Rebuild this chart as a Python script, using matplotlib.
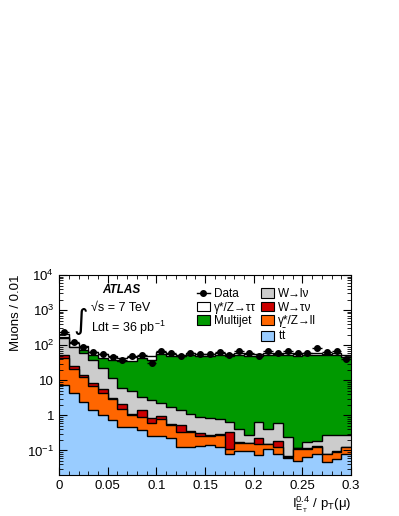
import numpy as np
import matplotlib
matplotlib.use("Agg")
import matplotlib.pyplot as plt
from matplotlib.lines import Line2D
from matplotlib.patches import Patch
from matplotlib.ticker import MultipleLocator, LogLocator, FuncFormatter, NullFormatter

plt.rcParams['font.family'] = ['Liberation Sans', 'DejaVu Sans']
plt.rcParams['mathtext.fontset'] = 'custom'
plt.rcParams['mathtext.rm'] = 'Liberation Sans'
plt.rcParams['mathtext.it'] = 'Liberation Sans:italic'
plt.rcParams['mathtext.bf'] = 'Liberation Sans:bold'

# 30 bins of 0.01 in I(E_T)/pT
bin_width = 0.01
n_bins = 30

data = [240, 126, 87, 62, 56, 45, 38, 49, 51, 32, 68, 59, 49, 59, 56,
        56, 65, 52, 70, 59, 49, 70, 61, 68, 59, 59, 83, 65, 66, 40]

ttbar = [7.3, 4.2, 2.45, 1.42, 1.02, 0.74, 0.46, 0.47, 0.38, 0.26, 0.26, 0.22, 0.128, 0.128, 0.13,
         0.143, 0.128, 0.079, 0.099, 0.099, 0.074, 0.108, 0.079, 0.06, 0.051, 0.066, 0.08, 0.048, 0.056, 0.079]
zll = [35, 16.3, 9.7, 5.5, 3.4, 2.12, 1.03, 0.55, 0.5, 0.33, 0.51, 0.31, 0.21, 0.21, 0.13,
       0.11, 0.14, 0.03, 0.067, 0.06, 0.076, 0.044, 0.049, 0.006, 0.061, 0.046, 0.048, 0.031, 0.036, 0.044]
wtaunu = [10, 5.0, 2.0, 1.65, 1.1, 0.34, 0.61, 0.05, 0.54, 0.23, 0.18, 0.02, 0.19, 0.02, 0.056,
          0.02, 0.02, 0.23, 0.004, 0.003, 0.07, 0.003, 0.062, 0.002, 0.003, 0.003, 0.002, 0.002, 0.002, 0.003]
wlnu = [113, 64.5, 46, 29.5, 16.5, 8.3, 3.9, 3.9, 2.0, 1.9, 1.25, 1.22, 0.87, 0.74, 0.58,
        0.58, 0.51, 0.31, 0.25, 0.118, 0.44, 0.245, 0.41, 0.177, 0.005, 0.055, 0.05, 0.2, 0.186, 0.144]
multijet = [0.5, 0.5, 15, 14, 22, 26.5, 29, 30, 38.6, 36.3, 52.8, 48.2, 46.6, 50.9, 49.1,
            49.2, 53.2, 48.4, 51.6, 49.7, 48.3, 51.6, 50.4, 52.8, 49.9, 51.8, 53.8, 50.7, 51.7, 45.7]
ztautau = [44.5, 27.5, 17, 13, 11, 10, 9, 11, 8, 9, 7, 6, 6, 6, 6,
           6, 6, 6, 6, 6, 6, 6, 6, 7, 6, 6, 6, 6, 6, 6]

# bottom to top
layers = [
    (r'$\mathrm{t\bar{t}}$', ttbar, '#99ccff'),
    ('γ*/Z→ll', zll, '#ff6600'),
    ('W→τν', wtaunu, '#cc0000'),
    ('W→lν', wlnu, '#cccccc'),
    ('Multijet', multijet, '#009900'),
    ('γ*/Z→ττ', ztautau, '#ffffff'),
]

edges = np.arange(n_bins + 1) * bin_width
centers = edges[:-1] + bin_width / 2

fig = plt.figure(figsize=(3.99, 5.16), dpi=100)
ax = fig.add_axes([0.148, 0.0795, 0.732, 0.3876])

tops = []
cum = np.zeros(n_bins)
for label, vals, col in layers:
    cum = cum + np.array(vals)
    tops.append(cum.copy())

for (label, vals, col), top in reversed(list(zip(layers, tops))):
    ax.stairs(top, edges, baseline=1e-4, fill=True, color=col, lw=0)
    ax.stairs(top, edges, baseline=None, color='black', lw=1.0)

data = np.array(data, dtype=float)
ax.errorbar(centers, data, xerr=bin_width / 2, yerr=np.sqrt(data), fmt='o',
            color='black', ms=4, elinewidth=1.0, capsize=0, zorder=5)

ax.set_yscale('log')
ax.set_xlim(0, 0.3)
ax.set_ylim(0.02, 1e4)

ax.xaxis.set_major_locator(MultipleLocator(0.05))
ax.xaxis.set_minor_locator(MultipleLocator(0.01))
ax.xaxis.set_major_formatter(FuncFormatter(lambda v, p: '%g' % round(v, 2)))


def ylab(v, p):
    if v == 1:
        return '1'
    if v == 10:
        return '10'
    return r'$10^{%d}$' % round(np.log10(v))


ax.yaxis.set_major_locator(LogLocator(base=10, numticks=10))
ax.yaxis.set_minor_locator(LogLocator(base=10, subs=np.arange(2, 10), numticks=20))
ax.yaxis.set_major_formatter(FuncFormatter(ylab))
ax.yaxis.set_minor_formatter(NullFormatter())

ax.tick_params(which='both', direction='in', top=True, right=True, labelsize=9.5)
ax.tick_params(which='major', length=6)
ax.tick_params(which='minor', length=3)

ax.set_ylabel('Muons / 0.01', fontsize=9.5, loc='top')
ax.set_xlabel(r'$\mathrm{I}^{0.4}_{\mathrm{E_T}}$ / $\mathrm{p_T(\mu)}$', fontsize=9.5,
              loc='right', labelpad=2)

ax.text(0.147, 0.925, 'ATLAS', transform=ax.transAxes, fontsize=8.5, fontweight='bold',
        style='italic', va='center')
ax.text(0.098, 0.77, '∫', transform=ax.transAxes, fontsize=20, va='center', ha='right',
        family='DejaVu Sans')
ax.text(0.108, 0.835, '√s = 7 TeV', transform=ax.transAxes, fontsize=9, va='center')
ax.text(0.11, 0.735, r'Ldt = 36 pb$^{-1}$', transform=ax.transAxes, fontsize=9, va='center')

handles = [Line2D([], [], color='black', marker='o', ms=4, lw=1)]
labels = ['Data']
for label, vals, col in [layers[5], layers[4]]:
    handles.append(Patch(facecolor=col, edgecolor='black', lw=0.8))
    labels.append(label)
handles.append(Patch(facecolor='none', edgecolor='none'))
labels.append('')
for label, vals, col in [layers[3], layers[2], layers[1], layers[0]]:
    handles.append(Patch(facecolor=col, edgecolor='black', lw=0.8))
    labels.append(label)

ax.legend(handles, labels, ncol=2, loc='upper left', bbox_to_anchor=(0.44, 0.98),
          frameon=False, fontsize=8.5, handlelength=1.1, handleheight=0.9,
          handletextpad=0.3, labelspacing=0.1, columnspacing=0.5, borderpad=0.3)

fig.savefig('out.png', dpi=100)
